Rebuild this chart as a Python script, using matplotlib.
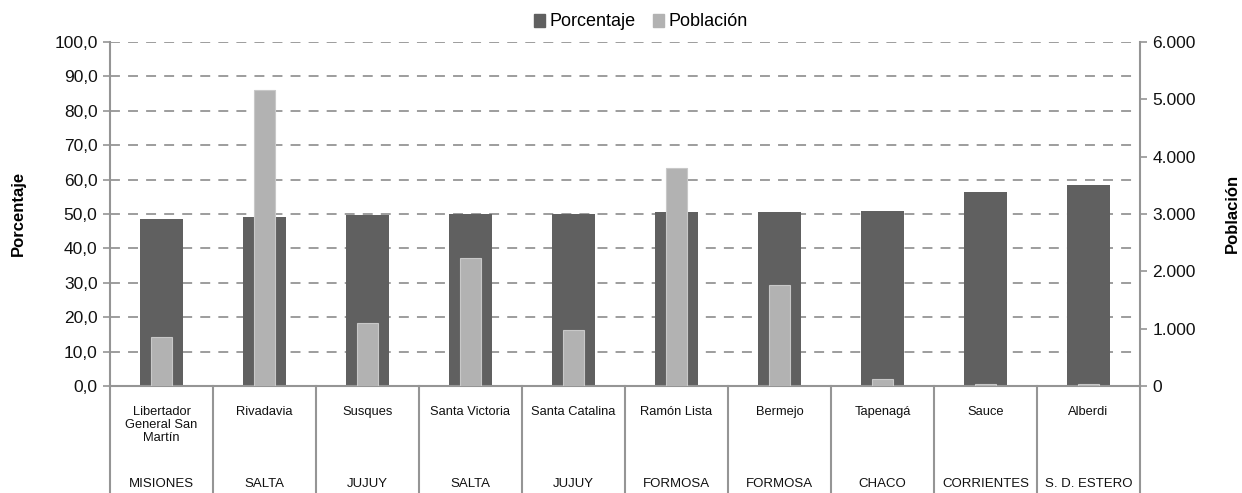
import matplotlib
matplotlib.use("Agg")
import matplotlib.pyplot as plt
from matplotlib.patches import Patch
from matplotlib.ticker import FuncFormatter, MultipleLocator

plt.rcParams['font.family'] = ['Liberation Sans', 'DejaVu Sans']

departamentos = ['Libertador\nGeneral San\nMartín', 'Rivadavia', 'Susques', 'Santa Victoria',
                 'Santa Catalina', 'Ramón Lista', 'Bermejo', 'Tapenagá', 'Sauce', 'Alberdi']
provincias = ['MISIONES', 'SALTA', 'JUJUY', 'SALTA', 'JUJUY', 'FORMOSA', 'FORMOSA',
              'CHACO', 'CORRIENTES', 'S. D. ESTERO']
porcentaje = [48.5, 49.1, 49.7, 50.1, 50.1, 50.6, 50.6, 51.0, 56.4, 58.3]
poblacion = [855, 5163, 1099, 2233, 977, 3803, 1762, 122, 35, 40]

dark = '#606060'
light = '#b2b2b2'
grid_grey = '#959595'

fig = plt.figure(figsize=(12.42, 4.93), dpi=100)
ax = fig.add_axes([110 / 1242, 1 - 386 / 493, 1030 / 1242, 344 / 493])
ax2 = ax.twinx()

x = range(len(departamentos))
ax.bar(x, porcentaje, width=0.41, color=dark, zorder=2)
ax2.bar(x, poblacion, width=0.2, color=light, edgecolor='#c8c8c8', linewidth=0.8, zorder=2)

ax.set_xlim(-0.5, len(departamentos) - 0.5)
ax.set_ylim(0, 100)
ax2.set_ylim(0, 6000)
ax.yaxis.set_major_locator(MultipleLocator(10))
ax2.yaxis.set_major_locator(MultipleLocator(1000))
ax.yaxis.set_major_formatter(FuncFormatter(lambda v, p: f'{v:.1f}'.replace('.', ',')))
ax2.yaxis.set_major_formatter(FuncFormatter(lambda v, p: f'{int(v):,}'.replace(',', '.')))

ax.set_axisbelow(True)
ax.grid(axis='y', color=grid_grey, linestyle=(0, (5.5, 4.5)), linewidth=1.3)
ax.set_xticks([])

for a in (ax, ax2):
    a.spines['top'].set_visible(False)
    for s in ('left', 'right', 'bottom'):
        a.spines[s].set_color(grid_grey)
        a.spines[s].set_linewidth(1.5)
    a.tick_params(axis='y', length=5, width=1.2, color=grid_grey, labelsize=12.5,
                  labelcolor='#111111', pad=4)
ax.spines['right'].set_visible(False)
ax2.spines['left'].set_visible(False)
ax2.spines['bottom'].set_visible(False)

# separators and two-level category labels
trans = ax.get_xaxis_transform()
for b in range(len(departamentos) + 1):
    ax.plot([b - 0.5, b - 0.5], [0, -0.32], transform=trans, color=grid_grey,
            linewidth=1.5, clip_on=False)
for i, (d, p) in enumerate(zip(departamentos, provincias)):
    ax.text(i, -0.057, d, transform=trans, ha='center', va='top', fontsize=9.3,
            color='#111111', linespacing=1.15)
    ax.text(i, -0.285, p, transform=trans, ha='center', va='center', fontsize=9.5,
            color='#111111')

fig.text(18 / 1242, 1 - 213 / 493, 'Porcentaje', rotation=90, ha='center', va='center',
         fontsize=12, fontweight='bold')
fig.text(1232 / 1242, 1 - 213 / 493, 'Población', rotation=90, ha='center', va='center',
         fontsize=12, fontweight='bold')

handles = [Patch(color=dark, label='Porcentaje'), Patch(color=light, label='Población')]
fig.legend(handles=handles, loc='center', bbox_to_anchor=(0.516, 1 - 22 / 493), ncol=2,
           frameon=False, fontsize=13, handlelength=0.6, handleheight=0.75,
           handletextpad=0.25, columnspacing=1.0)

fig.savefig('out.png', dpi=100)
